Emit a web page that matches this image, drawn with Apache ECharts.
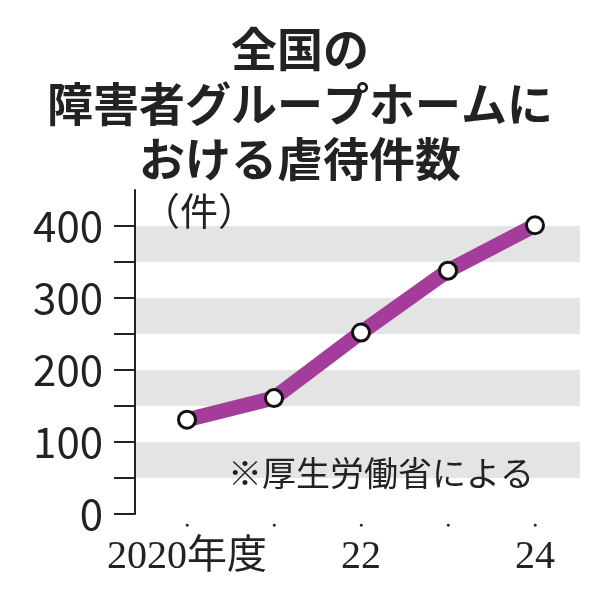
<!DOCTYPE html>
<html><head><meta charset="utf-8">
<script src="https://cdn.jsdelivr.net/npm/echarts@6/dist/echarts.min.js"></script>
<style>html,body{margin:0;background:#fff}#c{width:600px;height:600px}</style>
</head><body><div id="c"></div>
<script>
var years = ['2020年度', '21', '22', '23', '24'];
var shownLabels = ['2020年度', '22', '24'];
var cases = [131, 161, 252, 338, 401];
var yTicks = [0, 100, 200, 300, 400, 450];

var chart = echarts.init(document.getElementById('c'));
var jp = '"Noto Sans CJK JP", sans-serif';
chart.setOption({
  animation: false,
  title: {
    text: '全国の\n障害者グループホームに\nおける虐待件数',
    left: 'center', top: 16,
    textStyle: {fontFamily: jp, fontSize: 46, fontWeight: 'bold', lineHeight: 55, color: '#222'}
  },
  grid: [
    {left: 135, right: 20, top: 190, bottom: 86},
    {left: 143.5, right: 21.5, top: 190, bottom: 86}
  ],
  xAxis: [
    {gridIndex: 0, type: 'value', show: false, min: 0, max: 1},
    {
      gridIndex: 1, type: 'category', data: years, boundaryGap: true,
      axisLine: {show: false}, axisTick: {show: false},
      axisLabel: {
        interval: 0, margin: 2,
        formatter: function (v) {
          return '{d|●}\n' + (shownLabels.indexOf(v) >= 0 ? '{t|' + v + '}' : '{t| }');
        },
        rich: {
          d: {fontSize: 7, color: '#222', lineHeight: 18},
          t: {fontFamily: '"Liberation Serif", "Noto Sans CJK JP", serif', fontSize: 40, color: '#222', lineHeight: 46}
        }
      }
    }
  ],
  yAxis: [
    {
      gridIndex: 0, type: 'value', min: 0, max: 450, interval: 50,
      axisLine: {show: true, lineStyle: {color: '#222', width: 2}},
      axisTick: {show: true, length: 21, lineStyle: {color: '#222', width: 2}},
      axisLabel: {
        customValues: yTicks, margin: 32,
        fontFamily: jp, fontSize: 42, color: '#222'
      },
      splitLine: {show: false},
      splitArea: {show: true, areaStyle: {color: ['#ffffff', '#e4e4e4']}}
    },
    {gridIndex: 1, type: 'value', min: 0, max: 450, show: false}
  ],
  graphic: [
    {type: 'text', z: 100, x: 142, y: 192, style: {text: '（件）', font: '38px "Noto Sans CJK JP"', fill: '#222'}},
    {type: 'text', z: 100, x: 228, y: 456, style: {text: '※厚生労働省による', font: '34px "Noto Sans CJK JP"', fill: '#222'}}
  ],
  series: [{
    type: 'line', xAxisIndex: 1, yAxisIndex: 1, data: cases,
    lineStyle: {color: '#a43c9c', width: 15},
    symbol: 'circle', symbolSize: 17,
    itemStyle: {color: '#fff', borderColor: '#111', borderWidth: 3}
  }]
});
</script></body></html>
